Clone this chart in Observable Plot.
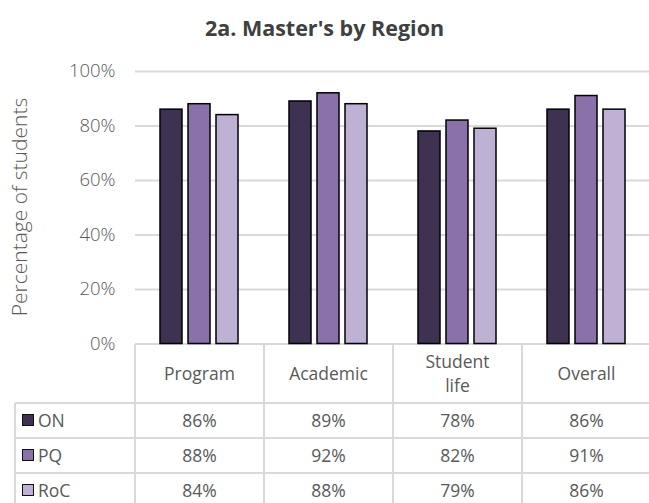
<!DOCTYPE html>
<html><head><meta charset="utf-8">
<script src="https://cdn.jsdelivr.net/npm/d3@7"></script>
<script src="https://cdn.jsdelivr.net/npm/@observablehq/plot@0.6"></script>
<style>
html,body{margin:0;padding:0;background:#fff;}
body{width:649px;height:503px;overflow:hidden;position:relative;font-family:"Open Sans",sans-serif;color:#595959;}
#title{position:absolute;top:13px;left:0;width:649px;text-align:center;font-weight:bold;font-size:21.5px;line-height:30px;color:#404040;}
#chart{position:absolute;left:0;top:0;}
#chart svg{max-width:none;overflow:visible;}
#ytitle{position:absolute;left:19px;top:207px;transform:translate(-50%,-50%) rotate(-90deg);white-space:nowrap;font-size:21px;font-weight:300;color:#595959;}
#table{position:absolute;left:0;top:0;}
.cell{position:absolute;box-sizing:border-box;display:flex;align-items:center;justify-content:center;text-align:center;font-size:17.5px;color:#595959;line-height:24px;}
.line{position:absolute;background:#d9d9d9;}
.sw{display:inline-block;width:10px;height:10px;border:1.5px solid #111;margin-right:4px;}
</style></head>
<body>
<div id="title">2a. Master's by Region</div>
<div id="chart"></div>
<div id="ytitle">Percentage of students</div>
<div id="table"></div>
<script>
const categories = ["Program", "Academic", "Student life", "Overall"];
const categoryLines = [["Program"], ["Academic"], ["Student", "life"], ["Overall"]];
const series = ["ON", "PQ", "RoC"];
const valuesON = [86, 89, 78, 86];
const valuesPQ = [88, 92, 82, 91];
const valuesRoC = [84, 88, 79, 86];
const seriesColors = ["#3f3151", "#8b71a9", "#bfb1d4"];
const yTicks = [0, 20, 40, 60, 80, 100];

const seriesValues = [valuesON, valuesPQ, valuesRoC];
const data = [];
seriesValues.forEach((vals, s) => vals.forEach((v, c) => data.push({category: categories[c], series: series[s], value: v})));

// layout constants
const W = 651, H = 360, ML = 135, MT = 71, ZERO_Y = 343.5;

const chart = Plot.plot({
  width: W, height: H,
  marginLeft: ML, marginRight: 0, marginTop: MT, marginBottom: H - ZERO_Y,
  fx: {domain: categories, padding: 0, axis: null},
  x: {domain: series, paddingInner: 0.207, paddingOuter: 0.83, axis: null},
  y: {domain: [0, 100], axis: null},
  color: {domain: series, range: seriesColors},
  style: {fontFamily: "'Open Sans', sans-serif", fontSize: "18px", color: "#595959", background: "transparent"},
  marks: [
    Plot.gridY(yTicks, {stroke: "#d9d9d9", strokeOpacity: 1, strokeWidth: 2}),
    Plot.barY(data, {fx: "category", x: "series", y: "value", fill: "series", stroke: "#000", strokeWidth: 1.5}),
    Plot.axisY(yTicks, {tickSize: 0, tickPadding: 20, tickFormat: d => d + "%", fill: "#595959", label: null, fontSize: 18.5, fontWeight: 300})
  ]
});
document.getElementById("chart").appendChild(chart);

// data table below the plot, columns aligned with the plot's facet bands
const colW = (W - ML) / categories.length;
const colStart = categories.map((c, i) => ML + i * colW);
const tbl = document.getElementById("table");
const headerTop = ZERO_Y, headerH = 59, rowH = 35, labelLeft = 15;
function addLine(x, y, w, h) {
  const d = document.createElement("div");
  d.className = "line";
  Object.assign(d.style, {left: x + "px", top: y + "px", width: w + "px", height: h + "px"});
  tbl.appendChild(d);
}
function addCell(x, y, w, h, html, extra) {
  const d = document.createElement("div");
  d.className = "cell";
  Object.assign(d.style, {left: x + "px", top: y + "px", width: w + "px", height: h + "px"}, extra || {});
  d.innerHTML = html;
  tbl.appendChild(d);
}
categoryLines.forEach((lines, i) => addCell(colStart[i], headerTop, colW, headerH, lines.join("<br>")));
series.forEach((s, r) => {
  const top = headerTop + headerH + r * rowH;
  addCell(labelLeft, top, ML - labelLeft, rowH,
    `<span class="sw" style="background:${seriesColors[r]}"></span>${s}`,
    {justifyContent: "flex-start", paddingLeft: "7px"});
  seriesValues[r].forEach((v, c) => addCell(colStart[c], top, colW, rowH, v + "%"));
});
const bottom = 520;
colStart.forEach(x => addLine(x - 1, headerTop, 2, bottom - headerTop));
addLine(W - 1, headerTop, 2, bottom - headerTop);
addLine(labelLeft - 1, headerTop + headerH, 2, bottom - headerTop - headerH);
for (let r = 0; r <= series.length; r++) addLine(labelLeft, headerTop + headerH + r * rowH - 1, W - labelLeft, 2);
</script>
</body></html>
